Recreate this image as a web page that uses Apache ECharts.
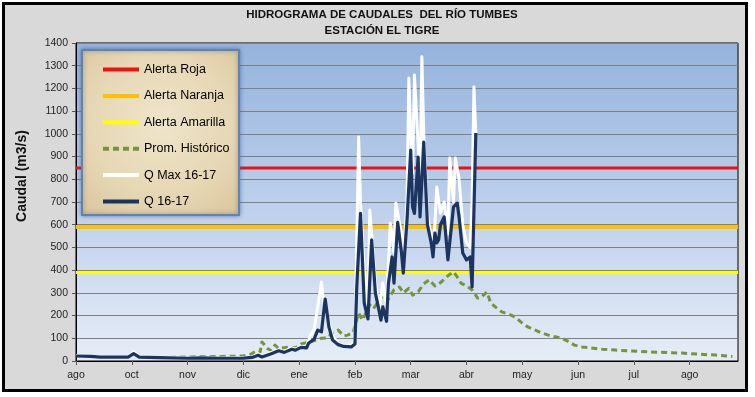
<!DOCTYPE html>
<html><head><meta charset="utf-8">
<script src="https://cdn.jsdelivr.net/npm/echarts@6/dist/echarts.min.js"></script>
<style>html,body{margin:0;padding:0;background:#fff}#c{width:755px;height:397px}</style>
</head><body><div id="c"></div><script>
// ---- DATA ----
const titleLines = ['HIDROGRAMA DE CAUDALES  DEL RÍO TUMBES', 'ESTACIÓN EL TIGRE'];
const yAxisTitle = 'Caudal (m3/s)';
const xLabels = ['ago','oct','nov','dic','ene','feb','mar','abr','may','jun','jul','ago'];
const seriesNames = ['Alerta Roja','Alerta Naranja','Alerta Amarilla','Prom. Histórico','Q Max 16-17','Q 16-17'];

// alert thresholds (constant lines across the whole period, in days)
const alertDays = [0, 356];
const alertRoja = [850, 850];
const alertNaranja = [590, 590];
const alertAmarilla = [390, 390];

// Q 16-17 (day index from start of period, m3/s)
const qDays = [0,8,13,28,31,34,45,60,67,78,90,95,98,100,105,109,112,116,118,121,124,125,128,130,132,134,136,138,141,144,148,150,151,153,155,157,159,161,164,165,167,168,170,171,173,175,176,178,180,181,182,184,185,186,187,189,191,192,193,194,195,196,198,200,202,203,205,206,208,210,212,213,215];
const qVals = [22,20,17,17,32,17,15,12,14,12,13,16,25,18,32,45,38,52,48,60,58,78,95,136,128,273,150,92,72,64,62,75,330,650,255,185,533,300,180,238,175,340,458,343,610,480,387,620,929,678,650,898,634,640,964,600,520,458,563,520,533,600,634,445,600,678,695,634,475,445,458,326,1004];

// Q Max 16-17
const qMaxDays = [0,8,13,28,31,34,45,60,67,78,90,95,98,100,105,109,112,116,118,121,124,126,128,130,132,133,135,138,141,144,148,150,152,153,155,157,158,159,161,163,165,167,169,170,171,172,173,175,176,178,179,180,181,182,184,185,186,187,189,191,192,193,194,196,198,200,201,203,204,206,208,210,212,213,214,215];
const qMaxVals = [24,21,18,18,42,19,16,13,15,13,15,18,32,20,38,48,42,58,52,64,66,110,140,238,348,270,200,110,80,68,70,90,986,700,400,250,665,560,350,230,343,240,607,550,480,695,650,560,450,700,1246,1000,828,1259,950,760,1339,1000,650,540,520,600,766,650,700,560,894,700,894,800,600,520,500,700,1206,1004];

// Prom. Histórico
const promDays = [45,62,78,90,94,97,99,100,103,105,107,109,113,118,121,124,126,129,132,135,138,141,144,146,149,152,154,158,160,164,167,171,174,176,179,181,184,187,190,193,196,200,203,205,207,210,213,216,218,221,223,226,229,233,236,240,243,247,250,254,257,261,265,268,272,277,283,290,299,308,318,326,335,344,353];
const promVals = [15,18,20,22,30,45,40,84,55,45,70,55,60,58,75,80,85,92,100,101,125,136,110,114,125,211,180,247,230,282,260,313,326,300,320,290,304,340,357,330,345,375,392,370,343,330,313,277,282,304,255,235,216,205,194,167,150,136,125,114,108,101,85,70,62,57,52,48,44,40,37,35,30,26,20];

// ---- CHART ----
const zip = (a, b) => a.map((d, i) => [d, b[i]]);
const FONT = '"Liberation Sans", Arial, sans-serif';
const chart = echarts.init(document.getElementById('c'), null, {renderer: 'canvas'});

function lineSeries(name, days, vals, color, width, type) {
  return {
    name, type: 'line', data: zip(days, vals), symbol: 'none', showSymbol: false,
    lineStyle: {color, width, type: type || 'solid', cap: 'butt', join: 'round'},
    itemStyle: {color}, animation: false, clip: true, silent: true
  };
}

chart.setOption({
  animation: false,
  backgroundColor: '#ffffff',
  graphic: [
    {type: 'rect', z: -10, shape: {x: 3.5, y: 3.5, width: 743, height: 387},
     style: {fill: '#d9d9d9', stroke: '#000', lineWidth: 3}},
    {type: 'text', z: 5, x: 382, y: 15, style: {text: titleLines[0], fill: '#111',
      font: 'bold 11.5px ' + FONT, textAlign: 'center', textVerticalAlign: 'middle'}},
    {type: 'text', z: 5, x: 382, y: 31, style: {text: titleLines[1], fill: '#111',
      font: 'bold 11.5px ' + FONT, textAlign: 'center', textVerticalAlign: 'middle'}},
    {type: 'text', z: 5, x: 22, y: 176, rotation: Math.PI / 2, style: {text: yAxisTitle, fill: '#111',
      font: 'bold 14px ' + FONT, textAlign: 'center', textVerticalAlign: 'middle'}},
    {type: 'rect', z: 50, shape: {x: 82, y: 50, width: 157, height: 165},
     style: {
       fill: {type: 'radial', x: 0.5, y: 0.45, r: 0.75, colorStops: [
         {offset: 0, color: '#efe5cb'}, {offset: 0.6, color: '#e6d7b4'}, {offset: 1, color: '#d9c59c'}]},
       stroke: '#5f83b3', lineWidth: 2, shadowBlur: 4, shadowColor: 'rgba(60,90,140,0.6)'}}
  ],
  grid: {left: 76, right: 17, top: 43, bottom: 36, show: true, borderColor: '#000', borderWidth: 1,
    backgroundColor: {type: 'linear', x: 0, y: 0, x2: 0, y2: 1, colorStops: [
      {offset: 0, color: '#95b3dd'}, {offset: 0.5, color: '#bccfeb'}, {offset: 1, color: '#e6edf7'}]}},
  xAxis: {
    type: 'value', min: 0, max: alertDays[1], interval: 30,
    axisLine: {show: true, lineStyle: {color: '#000', width: 1}},
    axisTick: {show: true, length: 4, lineStyle: {color: '#555'}},
    splitLine: {show: false},
    axisLabel: {color: '#222', fontSize: 10.5, fontFamily: FONT, margin: 9, showMaxLabel: false,
      formatter: v => (v % 30 === 0 && v / 30 < xLabels.length) ? xLabels[v / 30] : ''}
  },
  yAxis: {
    type: 'value', min: 0, max: 1400, interval: 100,
    axisLine: {show: true, lineStyle: {color: '#000', width: 1}},
    axisTick: {show: true, length: 4, lineStyle: {color: '#555'}},
    splitLine: {show: true, lineStyle: {color: '#808080', width: 1}},
    axisLabel: {color: '#222', fontSize: 10.5, fontFamily: FONT, margin: 8, formatter: v => String(v)}
  },
  legend: {
    z: 60, orient: 'vertical', left: 96, top: 58, itemWidth: 36, itemHeight: 14, itemGap: 13.4,
    data: seriesNames, textStyle: {color: '#000', fontSize: 12.5, fontFamily: FONT},
    itemStyle: {opacity: 0, borderWidth: 0},
    lineStyle: {width: 4},
    selectedMode: false
  },
  series: [
    lineSeries(seriesNames[0], alertDays, alertRoja, '#ee1111', 3),
    lineSeries(seriesNames[1], alertDays, alertNaranja, '#ffc000', 4),
    lineSeries(seriesNames[2], alertDays, alertAmarilla, '#ffff00', 3),
    lineSeries(seriesNames[3], promDays, promVals, '#77933c', 3, [6, 4]),
    lineSeries(seriesNames[4], qMaxDays, qMaxVals, '#ffffff', 3),
    lineSeries(seriesNames[5], qDays, qVals, '#1b3560', 3.2)
  ]
});
</script></body></html>
